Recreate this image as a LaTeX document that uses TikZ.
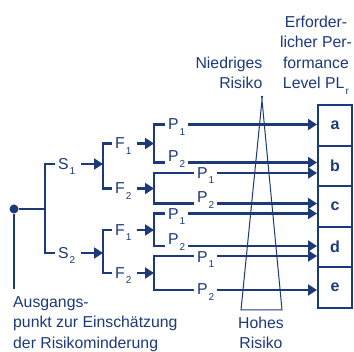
\documentclass[tikz,border=0pt]{standalone}
\usepackage{fontspec}
\setmainfont{Liberation Sans}
\usetikzlibrary{arrows.meta}

\definecolor{sickblue}{RGB}{28,57,122}
\newcommand{\ix}[1]{\kern1.2pt\raisebox{-5.5pt}[0pt][0pt]{\fontsize{10}{10}\selectfont #1}}

\begin{document}
\begin{tikzpicture}[x=1pt, y=-1pt, color=sickblue,
    font=\fontsize{15.8}{20.5}\selectfont,
    tree/.style={line width=2.1pt},
    arr/.style={line width=2.1pt, -{Triangle[length=9pt, width=11pt]}},
    lab/.style={anchor=west, inner sep=0pt, outer sep=3pt},
    txt/.style={inner sep=0pt},
    level/.style={draw, line width=2pt, minimum width=34pt, minimum height=40.6pt, inner sep=0pt, font=\fontsize{16}{16}\selectfont\bfseries}]
        \useasboundingbox (0,0) rectangle (354,352);

        % performance levels
        \node[level] (a) at (335,125.3) {a};
        \node[level] (b) at (335,165.9) {b};
        \node[level] (c) at (335,206.5) {c};
        \node[level] (d) at (335,247.1) {d};
        \node[level] (e) at (335,287.7) {e};

        % risk wedge
        \draw[line width=1pt] (262.4,96) -- (241,310) -- (282,310) -- (261.6,96);

        \node[txt, anchor=north, align=center] (plr) at (316,15.5) {Erforder-\\licher Per-\\formance\\Level PL\ix{r}};
        \node[txt, anchor=north east, align=right] (low) at (262.5,56.6) {Niedriges\\Risiko};
        \node[txt, anchor=north, align=center] (high) at (261,316.7) {Hohes\\Risiko};
        \node[txt, anchor=north west, align=left] (origin) at (13,296.2) {Ausgangs-\\punkt zur Einschätzung\\der Risikominderung};

        % S
        \node[circle, fill, inner sep=0pt, minimum size=9pt] (start) at (14,209) {};
        \coordinate (foot) at (14,289);
        \coordinate (root) at (45,209);
        \draw[line width=1.3pt] (start) -- (foot);
        \draw[tree] (start) -- (root);

        \node[lab] (s1) at (55,164) {S\ix{1}};
        \node[lab] (s2) at (55,253) {S\ix{2}};
        \draw[tree] (s1.west) -| (root) |- (s2.west);

        % F
        \coordinate (fk1) at (103,164);
        \coordinate (fk2) at (103,253);
        \draw[arr] ([xshift=3pt]s1.east) -- (fk1);
        \draw[arr] ([xshift=3pt]s2.east) -- (fk2);

        \node[lab] (f11) at (112,143.5) {F\ix{1}};
        \node[lab] (f12) at (112,188.5) {F\ix{2}};
        \node[lab] (f21) at (112,230) {F\ix{1}};
        \node[lab] (f22) at (112,273) {F\ix{2}};
        \draw[tree] (f11.west) -| (fk1) |- (f12.west);
        \draw[tree] (f21.west) -| (fk2) |- (f22.west);

        % P
        \coordinate (l1) at (154,124.5);
        \coordinate (l2) at (154,162.5);
        \coordinate (l3) at (154,173);
        \coordinate (l4) at (154,203.5);
        \coordinate (l5) at (154,213.5);
        \coordinate (l6) at (154,246);
        \coordinate (l7) at (154,256);
        \coordinate (l8) at (154,290);

        \draw[arr] ([xshift=3pt]f11.east) -- (f11.east -| l1);
        \draw[arr] ([xshift=3pt]f12.east) -- (f12.east -| l3);
        \draw[arr] ([xshift=3pt]f21.east) -- (f21.east -| l5);
        \draw[arr] ([xshift=3pt]f22.east) -- (f22.east -| l7);

        \node[lab] (p1) at (165,124.5) {P\ix{1}};
        \node[lab] (p2) at (165,156.5) {P\ix{2}};
        \node[lab] (p3) at (194,173) {P\ix{1}};
        \node[lab] (p4) at (194,197.5) {P\ix{2}};
        \node[lab] (p5) at (165,214) {P\ix{1}};
        \node[lab] (p6) at (165,239.5) {P\ix{2}};
        \node[lab] (p7) at (194,257) {P\ix{1}};
        \node[lab] (p8) at (194,289.5) {P\ix{2}};

        \draw[tree] (l1 -| p1.west) -- (l1) -- (l2) -- (l2 -| p2.west);
        \draw[tree] (l3 -| p3.west) -- (l3) -- (l4) -- (l4 -| p4.west);
        \draw[tree] (l5 -| p5.west) -- (l5) -- (l6) -- (l6 -| p6.west);
        \draw[tree] (l7 -| p7.west) -- (l7) -- (l8) -- (l8 -| p8.west);

        \draw[arr] (l1 -| p1.east) -- (l1 -| a.west);
        \draw[arr] (l2 -| p2.east) -- (l2 -| b.west);
        \draw[arr] (l3 -| p3.east) -- (l3 -| b.west);
        \draw[arr] (l4 -| p4.east) -- (l4 -| c.west);
        \draw[arr] (l5 -| p5.east) -- (l5 -| c.west);
        \draw[arr] (l6 -| p6.east) -- (l6 -| d.west);
        \draw[arr] (l7 -| p7.east) -- (l7 -| d.west);
        \draw[arr] (l8 -| p8.east) -- (l8 -| e.west);
\end{tikzpicture}
\end{document}
